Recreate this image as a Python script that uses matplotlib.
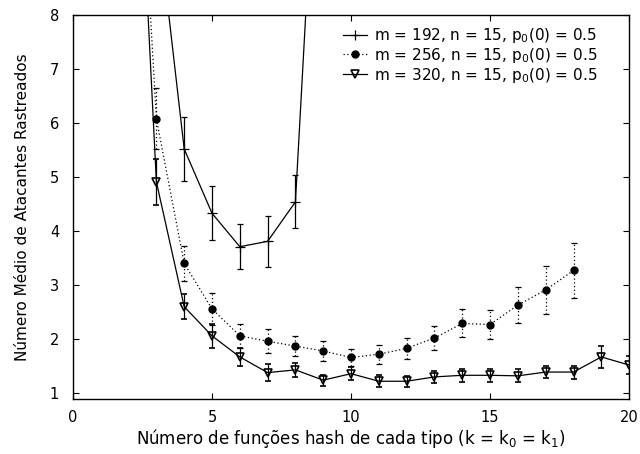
import matplotlib

matplotlib.use("Agg")

import matplotlib.pyplot as plt
from matplotlib.lines import Line2D
import numpy as np

plt.rcParams["font.family"] = ["DejaVu Sans"]
plt.rcParams["mathtext.fontset"] = "dejavusans"

# m = 192 (x=3 and x=9 lie above the plot range)
k_192 = [3, 4, 5, 6, 7, 8, 9]
mean_192 = [10.0, 5.52, 4.33, 3.71, 3.81, 4.54, 13.9]
err_192 = [0.6, 0.60, 0.50, 0.42, 0.47, 0.49, 0.8]

# m = 256
k_256 = [2, 3, 4, 5, 6, 7, 8, 9, 10, 11, 12, 13, 14, 15, 16, 17, 18]
mean_256 = [15.1, 6.08, 3.40, 2.56, 2.06, 1.96, 1.87, 1.78, 1.66, 1.72, 1.83,
            2.02, 2.29, 2.27, 2.63, 2.91, 3.27]
err_256 = [0.8, 0.57, 0.32, 0.29, 0.22, 0.22, 0.18, 0.19, 0.16, 0.18, 0.19,
           0.23, 0.26, 0.27, 0.34, 0.44, 0.51]

# m = 320
k_320 = [2, 3, 4, 5, 6, 7, 8, 9, 10, 11, 12, 13, 14, 15, 16, 17, 18, 19, 20]
mean_320 = [15.2, 4.91, 2.60, 2.06, 1.67, 1.38, 1.43, 1.24, 1.36, 1.22, 1.22,
            1.30, 1.33, 1.33, 1.32, 1.39, 1.39, 1.67, 1.52]
err_320 = [0.8, 0.43, 0.23, 0.22, 0.16, 0.15, 0.13, 0.10, 0.12, 0.11, 0.10,
           0.11, 0.12, 0.12, 0.12, 0.11, 0.12, 0.20, 0.16]

labels = [
    "m = 192, n = 15, p$_0$(0) = 0.5",
    "m = 256, n = 15, p$_0$(0) = 0.5",
    "m = 320, n = 15, p$_0$(0) = 0.5",
]

fig = plt.figure(figsize=(6.4, 4.54), dpi=100)
ax = fig.add_axes([0.114, 0.121, 0.869, 0.846])

lw = 0.9
dotted = (0, (1, 2))
styles = [
    dict(marker="+", ms=7, mew=0.9, ls="-"),
    dict(marker="o", ms=5, ls=dotted),
    dict(marker="v", ms=5.5, mfc="none", mew=1.2, ls="-"),
]

series = [(k_192, mean_192, err_192), (k_256, mean_256, err_256),
          (k_320, mean_320, err_320)]
for (k, mean, err), st in zip(series, styles):
    eb = ax.errorbar(k, mean, yerr=err, color="black", lw=lw, capsize=2.3,
                     elinewidth=lw, capthick=lw, **st)
    eb[2][0].set_linestyle(st["ls"])

ax.set_xlim(0, 20)
ax.set_ylim(0.89, 8)
ax.set_xticks([0, 5, 10, 15, 20])
ax.set_yticks([1, 2, 3, 4, 5, 6, 7, 8])
ax.tick_params(direction="in", length=4, width=0.8, top=True, right=True,
               labelsize=10.5)
ax.tick_params(axis="x", pad=8)
ax.tick_params(axis="y", pad=10)
for s in ax.spines.values():
    s.set_linewidth(1.0)

ax.set_xlabel("Número de funções hash de cada tipo (k = k$_0$ = k$_1$)",
              fontsize=12, labelpad=1)
ax.set_ylabel("Número Médio de Atacantes Rastreados", fontsize=11,
              labelpad=14)

handles = [Line2D([], [], color="black", lw=lw, **st) for st in styles]
ax.legend(handles, labels, loc="upper right", bbox_to_anchor=(0.96, 0.995),
          frameon=False, fontsize=11, labelspacing=0.05, handlelength=1.6,
          handletextpad=0.45, borderaxespad=0.2)

fig.savefig("out.png", dpi=100)
